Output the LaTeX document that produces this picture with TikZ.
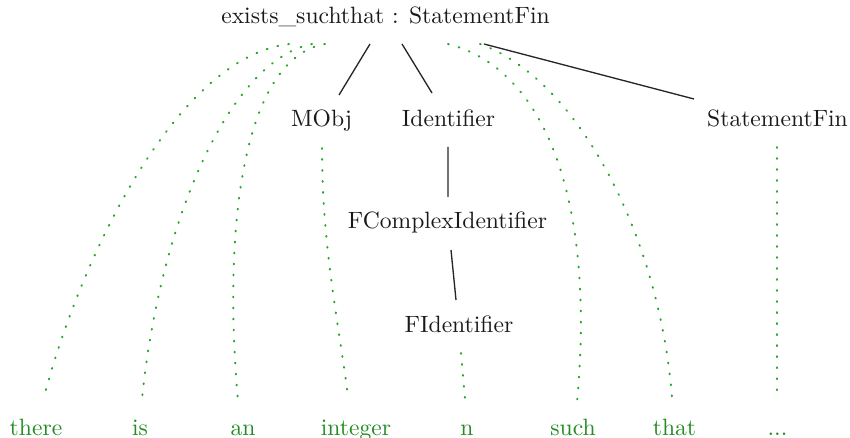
\documentclass[tikz,border=0pt]{standalone}
\usetikzlibrary{calc}
\definecolor{leafgreen}{RGB}{34,140,34}
\definecolor{dotgreen}{RGB}{40,165,40}
\begin{document}
\begin{tikzpicture}[x=0.4132pt,y=-0.4132pt,
  every node/.style={font=\fontsize{9.75}{12}\selectfont},
  tnode/.style={anchor=base,inner sep=0pt,text=black!90},
  leaf/.style={anchor=base,inner sep=0pt,text=leafgreen},
  tedge/.style={draw=black!85,line width=0.55pt},
  dedge/.style={draw=dotgreen,line width=0.8pt,line cap=round,dash pattern=on 0.35pt off 4.2pt}]
\useasboundingbox (0,0) rectangle (850,438);
% internal nodes
\node[tnode] (root) at (385.5,24) {exists\_suchthat : StatementFin};
\node[tnode] (mobj) at (321.5,127) {MObj};
\node[tnode] (ident) at (448.5,127) {Identifier};
\node[tnode] (sfin) at (777.5,127) {StatementFin};
\node[tnode] (fcomp) at (447.5,229) {FComplexIdentifier};
\node[tnode] (fid) at (459,332) {FIdentifier};
% leaves
\node[leaf] (there) at (36,435) {there};
\node[leaf] (is) at (140,435) {is};
\node[leaf] (an) at (243,435) {an};
\node[leaf] (integer) at (356,435) {integer};
\node[leaf] (n) at (467,435) {n};
\node[leaf] (such) at (573,435) {such};
\node[leaf] (that) at (674.5,435) {that};
\node[leaf] (dots) at (777.5,435) {...};
% tree edges
\draw[tedge] ($(root.base)+(-15.5,20)$) -- ($(mobj.base)+(17.5,-32)$);
\draw[tedge] ($(root.base)+(16.5,20)$) -- ($(ident.base)+(-16.5,-34)$);
\draw[tedge] ($(root.base)+(98.5,20)$) -- ($(sfin.base)+(-83.5,-28)$);
\draw[tedge] ($(ident.base)+(-0.5,20)$) -- ($(fcomp.base)+(0.5,-32)$);
\draw[tedge] ($(fcomp.base)+(3.5,21)$) -- ($(fid.base)+(-3,-32)$);
% token edges
\draw[dedge] ($(root.base)+(-96.5,20)$) .. controls (175,58) and (80,260) .. ($(there.base)+(8,-38)$);
\draw[dedge] ($(root.base)+(-73.5,20)$) .. controls (230,60) and (160,220) .. ($(is.base)+(2,-36)$);
\draw[dedge] ($(root.base)+(-60.5,20)$) .. controls (245,58) and (222,220) .. ($(an.base)+(-5,-34)$);
\draw[dedge] ($(mobj.base)+(0.5,21)$) .. controls (322,250) and (340,330) .. ($(integer.base)+(-8,-38)$);
\draw[dedge] ($(fid.base)+(2,21)$) -- ($(n.base)+(-2,-36)$);
\draw[dedge] ($(root.base)+(62.5,20)$) .. controls (550,70) and (595,210) .. ($(such.base)+(4,-33)$);
\draw[dedge] ($(root.base)+(94.5,20)$) .. controls (580,80) and (660,240) .. ($(that.base)+(-2.5,-37)$);
\draw[dedge] ($(sfin.base)+(-0.5,20)$) -- ($(dots.base)+(-0.5,-38)$);
\end{tikzpicture}
\end{document}
